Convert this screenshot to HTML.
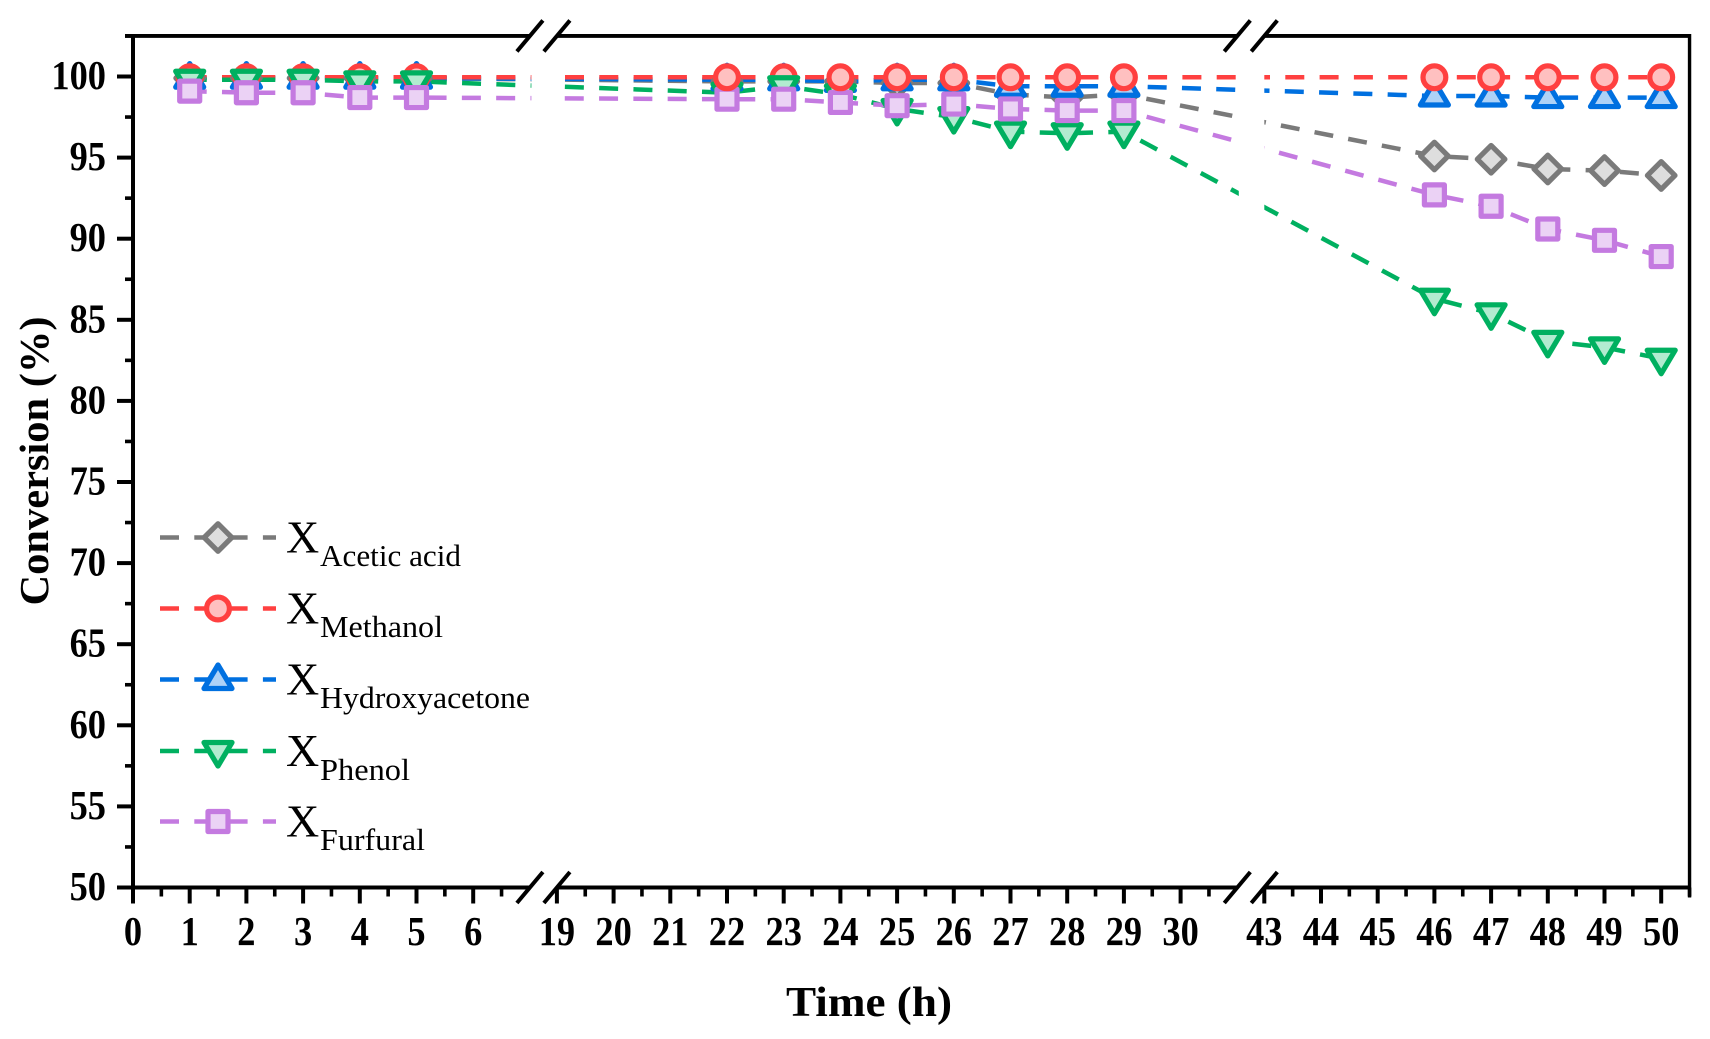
<!DOCTYPE html>
<html lang="en">
<head>
<meta charset="utf-8">
<title>Conversion vs Time</title>
<style>
  html, body { margin: 0; padding: 0; background: #fff; }
  svg { display: block; font-family: "Liberation Serif", serif; }
</style>
</head>
<body>
<svg id="chart" xmlns="http://www.w3.org/2000/svg" width="1710" height="1039" viewBox="0 0 1710 1039">
  <rect x="0" y="0" width="1710" height="1039" fill="#ffffff"/>
  <g id="lines"></g>
  <g id="masks"></g>
  <g id="markers"></g>
  <g id="axes"></g>
  <text x="869" y="1016" text-anchor="middle" font-size="42" font-weight="bold" textLength="166" lengthAdjust="spacingAndGlyphs">Time (h)</text>
  <text transform="translate(48,461) rotate(-90)" text-anchor="middle" font-size="41" font-weight="bold" textLength="289" lengthAdjust="spacingAndGlyphs">Conversion (%)</text>
  <g id="legend">
    <g>
      <text x="286" y="552.5" font-size="46">X</text>
      <text x="320" y="566" font-size="31" textLength="141" lengthAdjust="spacingAndGlyphs">Acetic acid</text>
    </g>
    <g>
      <text x="286" y="623.5" font-size="46">X</text>
      <text x="320" y="637" font-size="31" textLength="123" lengthAdjust="spacingAndGlyphs">Methanol</text>
    </g>
    <g>
      <text x="286" y="694.5" font-size="46">X</text>
      <text x="320" y="708" font-size="31" textLength="210" lengthAdjust="spacingAndGlyphs">Hydroxyacetone</text>
    </g>
    <g>
      <text x="286" y="766" font-size="46">X</text>
      <text x="320" y="780" font-size="31" textLength="90" lengthAdjust="spacingAndGlyphs">Phenol</text>
    </g>
    <g>
      <text x="286" y="836.5" font-size="46">X</text>
      <text x="320" y="850" font-size="31" textLength="105" lengthAdjust="spacingAndGlyphs">Furfural</text>
    </g>
  </g>
</svg>
<script>
// ---- chart data ----
const times = [1, 2, 3, 4, 5, 22, 23, 24, 25, 26, 27, 28, 29, 46, 47, 48, 49, 50];
const aceticAcid = [99.9, 99.9, 99.9, 99.9, 99.9, 99.7, 99.7, 99.7, 99.6, 99.6, 98.9, 98.7, 98.9, 95.1, 94.9, 94.3, 94.2, 93.9];
const methanol = [99.95, 99.95, 99.95, 99.95, 99.95, 99.95, 99.95, 99.95, 99.95, 99.95, 99.95, 99.95, 99.95, 99.95, 99.95, 99.95, 99.95, 99.95];
const hydroxyacetone = [99.9, 99.9, 99.9, 99.9, 99.9, 99.8, 99.8, 99.7, 99.8, 99.8, 99.4, 99.4, 99.4, 98.8, 98.8, 98.7, 98.7, 98.7];
const phenol = [99.8, 99.8, 99.8, 99.7, 99.7, 99.0, 99.4, 98.9, 98.0, 97.5, 96.6, 96.5, 96.6, 86.3, 85.4, 83.7, 83.3, 82.6];
const furfural = [99.1, 99.0, 99.0, 98.7, 98.7, 98.6, 98.6, 98.4, 98.2, 98.3, 98.0, 97.9, 97.9, 92.7, 92.0, 90.6, 89.9, 88.9];
const yTickLabels = [50, 55, 60, 65, 70, 75, 80, 85, 90, 95, 100];
const xTickLabels = [0, 1, 2, 3, 4, 5, 6, 19, 20, 21, 22, 23, 24, 25, 26, 27, 28, 29, 30, 43, 44, 45, 46, 47, 48, 49, 50];
const xMinorTicks = [0.5, 1.5, 2.5, 3.5, 4.5, 5.5, 6.5, 19.5, 20.5, 21.5, 22.5, 23.5, 24.5, 25.5, 26.5, 27.5, 28.5, 29.5, 30.5, 43.5, 44.5, 45.5, 46.5, 47.5, 48.5, 49.5, 50.5];
const yMinorTicks = [52.5, 57.5, 62.5, 67.5, 72.5, 77.5, 82.5, 87.5, 92.5, 97.5, 102.5];
const axisBreaks = [[7, 19], [31, 43]];
const methanolBelowTimes = [1, 2, 3, 4, 5, 23];

// ---- axis functions ----
const PX_PER_HOUR = 56.7;
function xPos(t) {
  let px = 133 + t * PX_PER_HOUR;
  if (t >= 19) px -= (19 - 7) * PX_PER_HOUR - 27;
  if (t >= 43) px -= (43 - 31) * PX_PER_HOUR - 27;
  return px;
}
function yPos(v) { return 887.5 - (v - 50) * 16.22; }

const NS = 'http://www.w3.org/2000/svg';
function make(tag, parent, attrs) {
  const el = document.createElementNS(NS, tag);
  for (const k in attrs) el.setAttribute(k, attrs[k]);
  parent.appendChild(el);
  return el;
}

const styles = {
  acetic: { stroke: '#7a7a7a', fill: '#dedede', dash: '#7a7a7a' },
  methanol: { stroke: '#ff4040', fill: '#ffc0c0', dash: '#ff4040' },
  hydroxy: { stroke: '#0070e0', fill: '#aed2f7', dash: '#0070e0' },
  phenol: { stroke: '#00b060', fill: '#b2ebd0', dash: '#00b060' },
  furfural: { stroke: '#c47ae0', fill: '#ebd2f5', dash: '#c47ae0' }
};

function drawMarker(parent, shape, cx, cy, st) {
  const common = { fill: st.fill, stroke: st.stroke, 'stroke-width': 5.2, 'stroke-linejoin': 'round' };
  let el;
  if (shape === 'diamond') {
    el = make('polygon', parent, Object.assign({ points: [cx, cy - 13.8, cx + 13.8, cy, cx, cy + 13.8, cx - 13.8, cy].join(' ') }, common));
  } else if (shape === 'circle') {
    el = make('circle', parent, Object.assign({ cx: cx, cy: cy, r: 11.4 }, common));
  } else if (shape === 'up') {
    el = make('polygon', parent, Object.assign({ points: [cx, cy - 14.5, cx + 14, cy + 9, cx - 14, cy + 9].join(' ') }, common));
  } else if (shape === 'down') {
    el = make('polygon', parent, Object.assign({ points: [cx, cy + 15, cx + 14, cy - 8.5, cx - 14, cy - 8.5].join(' ') }, common));
  } else {
    el = make('rect', parent, Object.assign({ x: cx - 10, y: cy - 10, width: 20, height: 20 }, common));
  }
  return el;
}

// ---- series lines ----
const linesG = document.getElementById('lines');
const markersG = document.getElementById('markers');
const seriesList = [
  { id: 'acetic-acid', values: aceticAcid, shape: 'diamond', st: styles.acetic },
  { id: 'hydroxyacetone', values: hydroxyacetone, shape: 'up', st: styles.hydroxy },
  { id: 'methanol', values: methanol, shape: 'circle', st: styles.methanol },
  { id: 'phenol', values: phenol, shape: 'down', st: styles.phenol },
  { id: 'furfural', values: furfural, shape: 'square', st: styles.furfural }
];
seriesList.forEach(function (s) {
  const pts = s.values.map(function (v, i) { return xPos(times[i]).toFixed(1) + ',' + yPos(v).toFixed(1); }).join(' ');
  const line = make('polyline', linesG, { points: pts, fill: 'none', stroke: s.st.dash, 'stroke-width': 4.5, 'stroke-dasharray': '19 15.3', 'stroke-dashoffset': 2, 'stroke-linecap': 'butt' });
  
  
});

// ---- white gaps across the axis breaks ----
const masksG = document.getElementById('masks');
axisBreaks.forEach(function (b) {
  const gap = make('rect', masksG, { x: xPos(b[0]) + 1.5, y: 40, width: xPos(b[1]) - xPos(b[0]) - 1.5, height: 840, fill: '#ffffff' });
  
  
});

// ---- markers ----
function drawSeriesMarkers(s, test) {
  s.values.forEach(function (v, i) {
    if (!test(times[i])) return;
    const m = drawMarker(markersG, s.shape, xPos(times[i]), yPos(v), s.st);
    
    
  });
}
seriesList.forEach(function (s) {
  if (s.id === 'methanol') {
    drawSeriesMarkers(s, function (t) { return methanolBelowTimes.indexOf(t) >= 0; });
  } else {
    drawSeriesMarkers(s, function () { return true; });
  }
});
drawSeriesMarkers(seriesList[2], function (t) { return methanolBelowTimes.indexOf(t) < 0; });

// ---- axes ----
const axesG = document.getElementById('axes');
const yBottom = yPos(50), yTop = yPos(102.5), xLeft = xPos(0), xRight = xPos(50.5);
function axisLine(x1, y1, x2, y2, w, name) {
  const l = make('line', axesG, { x1: x1, y1: y1, x2: x2, y2: y2, stroke: '#000000', 'stroke-width': w });
  
  
  return l;
}
axisLine(xLeft, yTop - 2, xLeft, yBottom + 2, 4, 'y-axis-line');
axisLine(xRight, yTop - 2, xRight, yBottom + 10, 3.4, 'right-axis-line');
const segStarts = [xPos(0) - 16, xPos(19), xPos(43)];
const segEnds = [xPos(7), xPos(31), xPos(50.5)];
segStarts.forEach(function (sx, i) {
  axisLine(sx, yBottom, segEnds[i], yBottom, 4, 'x-axis-line');
  const topStart = i === 0 ? xLeft - 8 : sx;
  axisLine(topStart, yTop, segEnds[i], yTop, 3.8, 'top-axis-line');
});
yTickLabels.forEach(function (v) {
  axisLine(xLeft - 16, yPos(v), xLeft, yPos(v), 4, 'y-major-tick');
  const t = make('text', axesG, { x: 106, y: yPos(v) + 12.5, 'text-anchor': 'end', 'font-size': 41, 'font-weight': 'bold', textLength: String(v).length * 18.2, lengthAdjust: 'spacingAndGlyphs', fill: '#000' });
  t.textContent = v;
  
  
});
yMinorTicks.forEach(function (v) {
  axisLine(xLeft - 8, yPos(v), xLeft, yPos(v), 3.6, 'y-minor-tick');
});
xTickLabels.forEach(function (v) {
  axisLine(xPos(v), yBottom, xPos(v), yBottom + 16, 4, 'x-major-tick');
  const t = make('text', axesG, { x: xPos(v), y: 945, 'text-anchor': 'middle', 'font-size': 41, 'font-weight': 'bold', textLength: String(v).length * 18.2, lengthAdjust: 'spacingAndGlyphs', fill: '#000' });
  t.textContent = v;
  
  
});
xMinorTicks.forEach(function (v) {
  axisLine(xPos(v), yBottom, xPos(v), yBottom + 9, 3.6, 'x-minor-tick');
});
// break slashes on the top and bottom axes
axisBreaks.forEach(function (b) {
  [xPos(b[0]), xPos(b[1])].forEach(function (cx) {
    [yTop, yBottom].forEach(function (cy) {
      const sl = make('line', axesG, { x1: cx - 13, y1: cy + 15.5, x2: cx + 13, y2: cy - 15.5, stroke: '#000000', 'stroke-width': 4, 'stroke-linecap': 'butt' });
      
      
    });
  });
});

// ---- legend samples ----
const legendG = document.getElementById('legend');
const legendRows = [
  { y: 537.5, shape: 'diamond', st: styles.acetic },
  { y: 608.5, shape: 'circle', st: styles.methanol },
  { y: 679.5, shape: 'up', st: styles.hydroxy },
  { y: 751, shape: 'down', st: styles.phenol },
  { y: 821.5, shape: 'square', st: styles.furfural }
];
legendRows.forEach(function (r) {
  const l = make('line', legendG, { x1: 160, y1: r.y, x2: 276, y2: r.y, stroke: r.st.dash, 'stroke-width': 4.5, 'stroke-dasharray': '19 15.3' });
  
  
  const m = drawMarker(legendG, r.shape, 218, r.y, r.st);
  
  
});
</script>
</body>
</html>
